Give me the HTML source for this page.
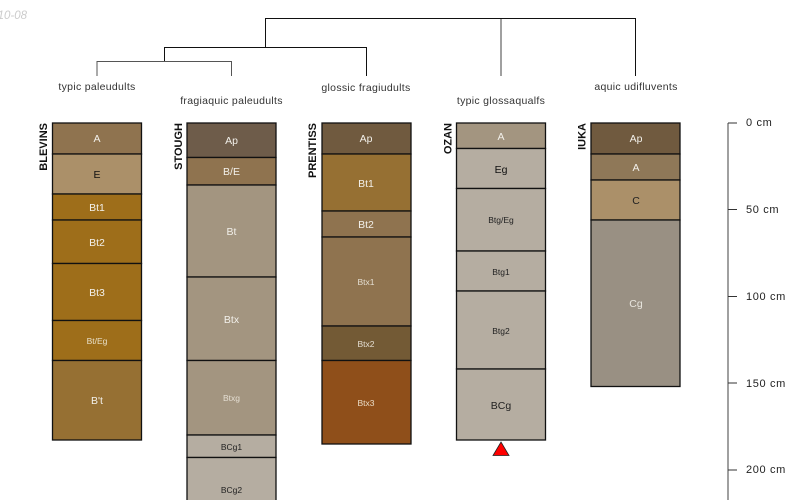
<!DOCTYPE html>
<html>
<head>
<meta charset="utf-8">
<style>
html,body{margin:0;padding:0;background:#fff;width:800px;height:500px;overflow:hidden}
svg{display:block}
text{font-family:"Liberation Sans",sans-serif}
.h{text-anchor:middle}
.n{font-weight:bold;font-size:11px;text-anchor:end;fill:#111}
.t{font-size:10.5px;text-anchor:middle;fill:#333;letter-spacing:.3px}
.d{font-size:11px;fill:#222;letter-spacing:.65px}
rect{stroke:#111;stroke-width:1.3}
.l{stroke:#111;fill:none;stroke-width:1}
</style>
</head>
<body>
<svg width="800" height="500" viewBox="0 0 800 500" xmlns="http://www.w3.org/2000/svg">
<text x="27" y="19" font-size="11.5" font-style="italic" fill="#ccc" text-anchor="end">10-08</text>

<!-- dendrogram -->
<path class="l" d="M265.5 47V18.5H635.5V76"/>
<path class="l" d="M164.5 61V47.5H366.5V76"/>
<path class="l" style="stroke:#555" d="M97 76V61.5H231.5V76"/>
<path class="l" style="stroke:#888;stroke-width:1.6" d="M501 19V76"/>

<text class="t" x="97" y="90">typic paleudults</text>
<text class="t" x="231.5" y="104">fragiaquic paleudults</text>
<text class="t" x="366" y="91">glossic fragiudults</text>
<text class="t" x="501" y="104">typic glossaqualfs</text>
<text class="t" x="636" y="90">aquic udifluvents</text>

<!-- BLEVINS -->
<text class="n" transform="translate(47,123) rotate(-90)">BLEVINS</text>
<g>
<rect x="52.5" y="123" width="89" height="31" fill="#8f734f"/>
<rect x="52.5" y="154" width="89" height="40" fill="#ab9069"/>
<rect x="52.5" y="194" width="89" height="26" fill="#9e6e1a"/>
<rect x="52.5" y="220" width="89" height="43.5" fill="#9e6e1a"/>
<rect x="52.5" y="263.5" width="89" height="57" fill="#9e6e1a"/>
<rect x="52.5" y="320.5" width="89" height="40" fill="#9e6e1a"/>
<rect x="52.5" y="360.5" width="89" height="79.5" fill="#967033"/>
</g>
<g class="h" text-anchor="middle" fill="#f2f0ea">
<text x="97" y="142" font-size="10.5">A</text>
<text x="97" y="178" font-size="10.5" fill="#111">E</text>
<text x="97" y="211" font-size="10.5">Bt1</text>
<text x="97" y="246" font-size="10.5">Bt2</text>
<text x="97" y="296" font-size="10.5">Bt3</text>
<text x="97" y="344" font-size="8.5" fill="#e8dfc8">Bt/Eg</text>
<text x="97" y="404" font-size="10.5">B't</text>
</g>

<!-- STOUGH -->
<text class="n" transform="translate(182,123) rotate(-90)">STOUGH</text>
<g>
<rect x="187" y="123" width="89" height="34.5" fill="#6e5c4a"/>
<rect x="187" y="157.5" width="89" height="27.5" fill="#8f734f"/>
<rect x="187" y="185" width="89" height="92" fill="#a39580"/>
<rect x="187" y="277" width="89" height="83.5" fill="#a39580"/>
<rect x="187" y="360.5" width="89" height="74.5" fill="#a39580"/>
<rect x="187" y="435" width="89" height="22.5" fill="#b5ada1"/>
<rect x="187" y="457.5" width="89" height="60" fill="#b5ada1"/>
</g>
<g text-anchor="middle" fill="#f2f0ea">
<text x="231.5" y="144" font-size="10.5">Ap</text>
<text x="231.5" y="175" font-size="10.5">B/E</text>
<text x="231.5" y="235" font-size="10.5">Bt</text>
<text x="231.5" y="323" font-size="10.5">Btx</text>
<text x="231.5" y="401" font-size="8.5" fill="#e4ded2">Btxg</text>
<text x="231.5" y="450" font-size="8.5" fill="#222">BCg1</text>
<text x="231.5" y="493" font-size="8.5" fill="#222">BCg2</text>
</g>

<!-- PRENTISS -->
<text class="n" transform="translate(316,123) rotate(-90)">PRENTISS</text>
<g>
<rect x="322" y="123" width="89" height="31" fill="#705a3f"/>
<rect x="322" y="154" width="89" height="57" fill="#967033"/>
<rect x="322" y="211" width="89" height="26" fill="#8f734f"/>
<rect x="322" y="237" width="89" height="89" fill="#8f734f"/>
<rect x="322" y="326" width="89" height="34.5" fill="#735a35"/>
<rect x="322" y="360.5" width="89" height="83.5" fill="#8f4f1a"/>
</g>
<g text-anchor="middle" fill="#f2f0ea">
<text x="366" y="142" font-size="10.5">Ap</text>
<text x="366" y="187" font-size="10.5">Bt1</text>
<text x="366" y="228" font-size="10.5">Bt2</text>
<text x="366" y="285" font-size="8.5" fill="#e4ded2">Btx1</text>
<text x="366" y="347" font-size="8.5" fill="#e4ded2">Btx2</text>
<text x="366" y="406" font-size="8.5" fill="#eaddc8">Btx3</text>
</g>

<!-- OZAN -->
<text class="n" transform="translate(451.5,123) rotate(-90)">OZAN</text>
<g>
<rect x="456.5" y="123" width="89" height="25.5" fill="#a39580"/>
<rect x="456.5" y="148.5" width="89" height="40" fill="#b5ada1"/>
<rect x="456.5" y="188.5" width="89" height="62.5" fill="#b5ada1"/>
<rect x="456.5" y="251" width="89" height="40" fill="#b5ada1"/>
<rect x="456.5" y="291" width="89" height="78" fill="#b5ada1"/>
<rect x="456.5" y="369" width="89" height="71" fill="#b5ada1"/>
</g>
<g text-anchor="middle" fill="#222">
<text x="501" y="140" font-size="10.5" fill="#f2f0ea">A</text>
<text x="501" y="173" font-size="10.5" fill="#111">Eg</text>
<text x="501" y="223" font-size="8.5">Btg/Eg</text>
<text x="501" y="275" font-size="8.5">Btg1</text>
<text x="501" y="334" font-size="8.5">Btg2</text>
<text x="501" y="409" font-size="10.5">BCg</text>
</g>
<polygon points="501,442 509,455.5 493,455.5" fill="#f00" stroke="#222" stroke-width="0.8"/>

<!-- IUKA -->
<text class="n" transform="translate(585.5,123) rotate(-90)">IUKA</text>
<g>
<rect x="591" y="123" width="89" height="31" fill="#705a3f"/>
<rect x="591" y="154" width="89" height="26" fill="#8f7858"/>
<rect x="591" y="180" width="89" height="40" fill="#ab9069"/>
<rect x="591" y="220" width="89" height="166.5" fill="#999083"/>
</g>
<g text-anchor="middle" fill="#f2f0ea">
<text x="636" y="142" font-size="10.5">Ap</text>
<text x="636" y="171" font-size="10.5">A</text>
<text x="636" y="204" font-size="10.5" fill="#222">C</text>
<text x="636" y="307" font-size="10.5" fill="#e8e5de">Cg</text>
</g>

<!-- depth scale -->
<path d="M728 123V500" stroke="#888" stroke-width="1.6" fill="none"/>
<path d="M728 123H737M728 209.5H737M728 296.5H737M728 383H737M728 470H737" stroke="#333" stroke-width="1" fill="none"/>
<text class="d" x="746" y="126">0 cm</text>
<text class="d" x="746" y="213">50 cm</text>
<text class="d" x="746" y="300">100 cm</text>
<text class="d" x="746" y="387">150 cm</text>
<text class="d" x="746" y="473">200 cm</text>
</svg>
</body>
</html>
